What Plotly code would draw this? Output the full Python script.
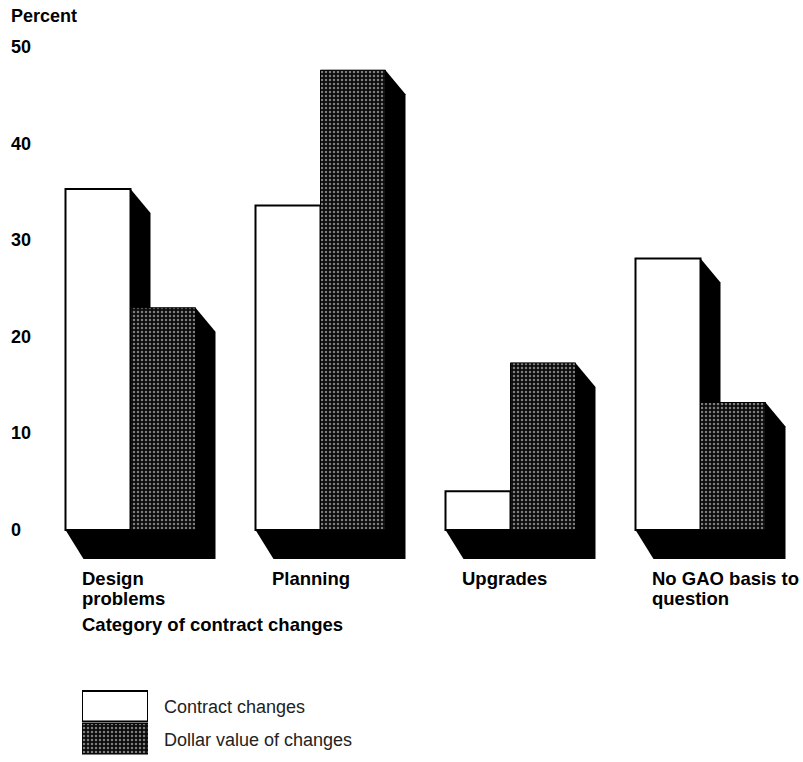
import plotly.graph_objects as go

# ---- data -------------------------------------------------------------
categories = ["Design<br>problems", "Planning", "Upgrades", "No GAO basis to<br>question"]
series_names = ["Contract changes", "Dollar value of changes"]
contract_changes = [35.3, 33.6, 4.0, 28.1]
dollar_value = [23.0, 47.6, 17.3, 13.2]
y_ticks = [0, 10, 20, 30, 40, 50]
y_title = "Percent"
x_title = "Category of contract changes"

# ---- geometry ---------------------------------------------------------
W, H = 803, 762
PX_PER_CAT = 190.0          # pixels between category centres
PX_PER_UNIT = 9.66          # pixels per percent
ZERO_PX = 530.0             # vertical pixel of the zero line
FIRST_CENTER_PX = 130.5     # horizontal pixel of first category centre
BAR_W = 65.0 / PX_PER_CAT   # width of one bar in category units

# extrusion (shadow) offsets in data units
SH_DX = 20.0 / PX_PER_CAT
SH_DY = 24.0 / PX_PER_UNIT
SH_DXB = 18.0 / PX_PER_CAT
SH_DYB = 29.0 / PX_PER_UNIT

x_pos = list(range(len(categories)))
x_lo = -FIRST_CENTER_PX / PX_PER_CAT
x_hi = x_lo + W / PX_PER_CAT
top_px, bot_px = 18.0, 610.0
y_hi = (ZERO_PX - top_px) / PX_PER_UNIT
y_lo = (ZERO_PX - bot_px) / PX_PER_UNIT

BOLD = "Liberation Sans, Arial, Helvetica, sans-serif"
LABEL_SIZE = 18.5
LINE_GAP_PX = 20

fig = go.Figure()

# contract changes: plain white bars, left of each category centre
fig.add_trace(go.Bar(
    x=x_pos, y=contract_changes, name=series_names[0],
    width=BAR_W, offset=-BAR_W,
    marker=dict(color="white", line=dict(color="black", width=2)),
    showlegend=False, xaxis="x", yaxis="y",
))
# dollar value of changes: dark halftone bars, right of each centre
halftone = dict(shape=".", bgcolor="#0c0c0c", fgcolor="#eeeeee", size=4, solidity=0.3)
fig.add_trace(go.Bar(
    x=x_pos, y=dollar_value, name=series_names[1],
    width=BAR_W, offset=0,
    marker=dict(color="#0c0c0c", pattern=halftone, line=dict(color="black", width=1)),
    showlegend=False, xaxis="x", yaxis="y",
))

# black extrusion behind every bar, derived from the bar values
shapes = []
for xi, hc, hd in zip(x_pos, contract_changes, dollar_value):
    for x0, h in ((xi - BAR_W, hc), (xi, hd)):
        x1 = x0 + BAR_W
        path = (f"M {x0},{h} L {x1},{h} L {x1 + SH_DX},{h - SH_DY} "
                f"L {x1 + SH_DX},{-SH_DYB} L {x0 + SH_DXB},{-SH_DYB} L {x0},0 Z")
        shapes.append(dict(type="path", path=path, xref="x", yref="y",
                           fillcolor="black", line=dict(width=0), layer="below"))

annotations = []
# y tick labels, left aligned at the page edge
for t in y_ticks:
    annotations.append(dict(text=f"<b>{t}</b>", x=9 / W, xref="paper", y=t, yref="y",
                            xanchor="left", yanchor="middle", showarrow=False,
                            font=dict(family=BOLD, size=18, color="black")))
annotations.append(dict(text=f"<b>{y_title}</b>", x=9 / W, xref="paper",
                        y=1 - 16 / H, yref="paper", xanchor="left", yanchor="middle",
                        showarrow=False, font=dict(family=BOLD, size=18, color="black")))
# category labels under each group, one annotation per text line
for xi, cat in zip(x_pos, categories):
    for k, line in enumerate(cat.split("<br>")):
        annotations.append(dict(text=f"<b>{line}</b>", x=xi - BAR_W + SH_DXB, xref="x",
                                xshift=-4, y=1 - (578 + k * LINE_GAP_PX) / H, yref="paper",
                                xanchor="left", yanchor="middle", showarrow=False,
                                font=dict(family=BOLD, size=LABEL_SIZE, color="black")))
annotations.append(dict(text=f"<b>{x_title}</b>", x=0 - BAR_W + SH_DXB, xref="x",
                        xshift=-4, y=1 - 624 / H, yref="paper", xanchor="left",
                        yanchor="middle", showarrow=False,
                        font=dict(family=BOLD, size=LABEL_SIZE, color="black")))

# legend: two swatch bars in a small subplot, with their names beside them
fig.add_trace(go.Bar(
    y=[1], x=[1], orientation="h", width=0.94, name=series_names[0],
    marker=dict(color="white", line=dict(color="black", width=2)),
    showlegend=False, xaxis="x2", yaxis="y2",
))
fig.add_trace(go.Bar(
    y=[0], x=[1], orientation="h", width=0.94, name=series_names[1],
    marker=dict(color="#0c0c0c", pattern=halftone, line=dict(color="black", width=1)),
    showlegend=False, xaxis="x2", yaxis="y2",
))
for yv, nm in zip([1, 0], series_names):
    annotations.append(dict(text=nm, x=1, xref="x2", y=yv, yref="y2", xanchor="left",
                            yanchor="middle", xshift=14, yshift=-1, showarrow=False,
                            font=dict(family="Liberation Sans, Arial, sans-serif",
                                      size=18, color="#222222")))

fig.update_layout(
    width=W, height=H,
    margin=dict(l=0, r=0, t=0, b=0),
    paper_bgcolor="white", plot_bgcolor="rgba(0,0,0,0)",
    barmode="overlay",
    xaxis=dict(range=[x_lo, x_hi], domain=[0, 1], visible=False, fixedrange=True),
    yaxis=dict(range=[y_lo, y_hi], domain=[1 - bot_px / H, 1 - top_px / H],
               visible=False, fixedrange=True),
    xaxis2=dict(range=[0, 1], domain=[82 / W, 148 / W], visible=False, anchor="y2"),
    yaxis2=dict(range=[-0.5, 1.5], domain=[1 - 755 / H, 1 - 690 / H], visible=False,
                anchor="x2"),
    shapes=shapes,
    annotations=annotations,
)

fig.write_html("out.html")
